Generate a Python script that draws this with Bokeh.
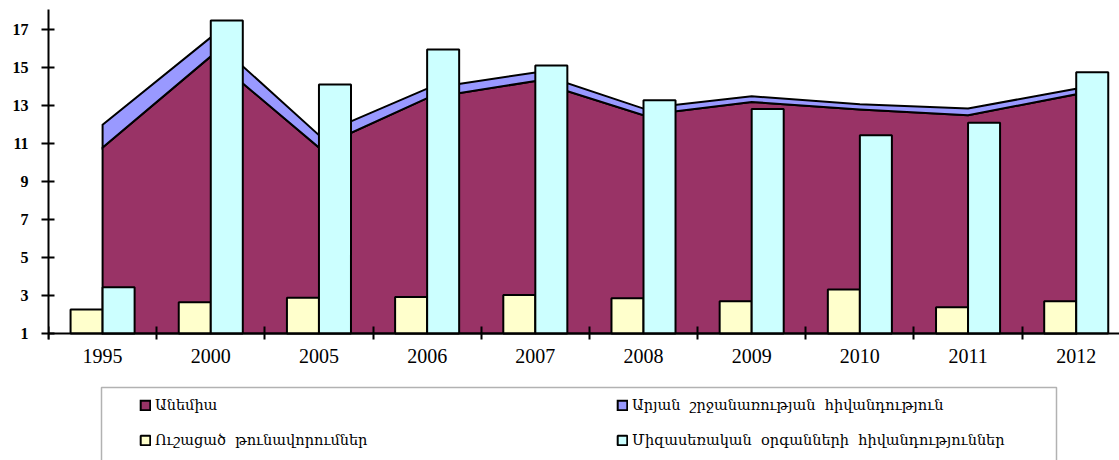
from bokeh.plotting import figure
from bokeh.models import ColumnDataSource, FixedTicker, Legend, LegendItem, BoxAnnotation
from bokeh.transform import dodge
from bokeh.embed import file_html
from bokeh.resources import INLINE

years = ["1995", "2000", "2005", "2006", "2007", "2008", "2009", "2010", "2011", "2012"]
anemia = [10.8, 15.6, 10.8, 13.4, 14.3, 12.5, 13.2, 12.8, 12.5, 13.6]
circulatory = [1.2, 1.0, 0.65, 0.5, 0.45, 0.35, 0.3, 0.28, 0.35, 0.3]
toxicosis = [2.27, 2.65, 2.88, 2.92, 3.03, 2.86, 2.70, 3.32, 2.39, 2.70]
genitourinary = [3.44, 17.49, 14.12, 15.96, 15.12, 13.29, 12.83, 11.45, 12.10, 14.77]

label_anemia = "Անեմիա"
label_circ = "Արյան  շրջանառության  հիվանդություն"
label_tox = "Ուշացած  թունավորումներ"
label_gen = "Միզասեռական  օրգանների  հիվանդություններ"

base = 1  # axis minimum
n = len(years)
xs = list(range(n))
total = [a + c for a, c in zip(anemia, circulatory)]

p = figure(width=1119, height=460, output_backend="svg", toolbar_location=None,
           x_range=(-0.5, 9.40), y_range=(-5.69, 18.07),
           min_border_left=48, min_border_right=0, min_border_top=9, min_border_bottom=0)
p.xgrid.visible = False
p.ygrid.visible = False
p.outline_line_color = None

r_an = p.patch(x=xs + xs[::-1], y=anemia + [base] * n, fill_color="#993366",
               line_color="black", line_width=2, line_join="miter")
r_ci = p.patch(x=xs + xs[::-1], y=total + anemia[::-1], fill_color="#9999FF",
               line_color="black", line_width=2, line_join="miter")

src = ColumnDataSource(dict(x=xs, tox=toxicosis, gen=genitourinary))
bw = 0.296
r_tox = p.vbar(x=dodge("x", -bw / 2), top="tox", bottom=base, width=bw, source=src,
               fill_color="#FFFFCC", line_color="black", line_width=2)
r_gen = p.vbar(x=dodge("x", bw / 2), top="gen", bottom=base, width=bw, source=src,
               fill_color="#CCFFFF", line_color="black", line_width=2)

# x axis (placed at y = 1 inside the frame)
p.xaxis.fixed_location = base
p.xaxis.ticker = FixedTicker(ticks=xs, minor_ticks=[i + 0.5 for i in range(-1, n)])
p.xaxis.major_label_overrides = {i: y for i, y in enumerate(years)}
p.xaxis.major_tick_line_color = None
p.xaxis.major_tick_in = 0
p.xaxis.major_tick_out = 6
p.xaxis.minor_tick_line_color = "black"
p.xaxis.minor_tick_line_width = 2
p.xaxis.minor_tick_in = 7
p.xaxis.minor_tick_out = 6
p.xaxis.axis_line_width = 2
p.xaxis.axis_line_color = "black"
p.xaxis.major_label_text_font = "Liberation Serif"
p.xaxis.major_label_text_font_size = "20px"
p.xaxis.major_label_text_color = "black"
p.xaxis.major_label_standoff = 9

# y axis
p.yaxis.ticker = FixedTicker(ticks=[1, 3, 5, 7, 9, 11, 13, 15, 17])
p.yaxis.bounds = (0.7, 18.07)
p.yaxis.major_tick_in = 6
p.yaxis.major_tick_out = 7
p.yaxis.major_tick_line_width = 2
p.yaxis.major_tick_line_color = "black"
p.yaxis.minor_tick_line_color = None
p.yaxis.axis_line_width = 2
p.yaxis.axis_line_color = "black"
p.yaxis.major_label_text_font = "Liberation Serif"
p.yaxis.major_label_text_font_style = "bold"
p.yaxis.major_label_text_font_size = "16px"
p.yaxis.major_label_text_color = "black"
p.yaxis.major_label_standoff = 13

legend = Legend(
    items=[LegendItem(label=label_anemia, renderers=[r_an]),
           LegendItem(label=label_circ, renderers=[r_ci]),
           LegendItem(label=label_tox, renderers=[r_tox]),
           LegendItem(label=label_gen, renderers=[r_gen])],
    location=(91, 10), orientation="horizontal", ncols=2,
    border_line_color=None, background_fill_alpha=0, padding=0, margin=0,
    spacing=15, label_width=446, label_height=20, glyph_width=12, glyph_height=12,
    label_standoff=4, label_text_font="DejaVu Serif", label_text_font_size="14.5px",
    label_text_color="black")
p.add_layout(legend, "center")

box = BoxAnnotation(left=53, right=1008, top=73, bottom=-3,
                    left_units="screen", right_units="screen",
                    top_units="screen", bottom_units="screen",
                    fill_alpha=0, line_color="black", line_width=1.5, level="overlay")
p.add_layout(box)

open("out.html", "w").write(file_html(p, INLINE))
